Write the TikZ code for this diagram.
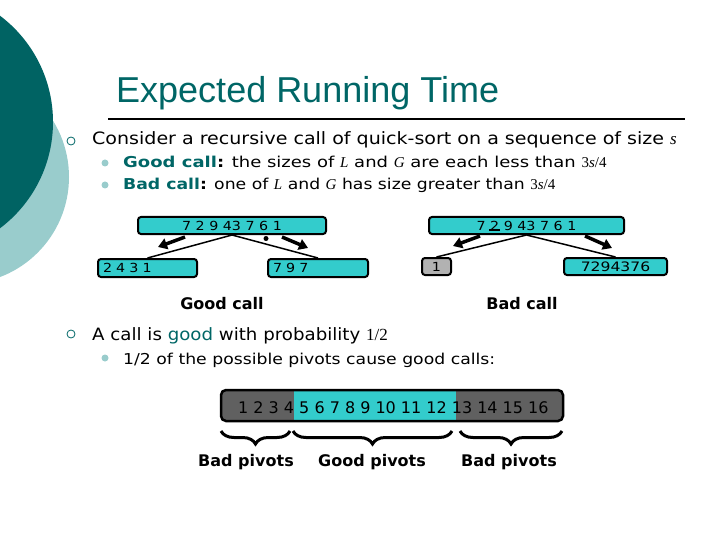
\documentclass[tikz,border=0pt]{standalone}
\usepackage{fontspec}
\setmainfont{DejaVu Sans}
\newfontfamily\titlefont{Liberation Sans}
\newfontfamily\serifvar{Liberation Serif}
\usepackage{tikz}
\usetikzlibrary{arrows.meta, decorations.pathreplacing}

\definecolor{darkteal}{RGB}{0,99,99}
\definecolor{lightteal}{RGB}{153,204,204}
\definecolor{textteal}{RGB}{0,102,102}
\definecolor{boxcyan}{RGB}{51,204,204}
\definecolor{pivotgray}{RGB}{96,96,96}
\definecolor{onegray}{RGB}{178,178,178}

\newcommand{\sv}[1]{{\serifvar\itshape #1}}
\newcommand{\sn}[1]{{\serifvar #1}}

\tikzset{
  seqbox/.style={draw=black, line width=2pt, rounded corners=3pt, fill=boxcyan,
    inner sep=0pt, anchor=north west, font=\fontsize{12.5}{12.5}\selectfont\addfontfeature{FakeStretch=1.14}},
  splitline/.style={line width=1.5pt},
  splitarrow/.style={line width=3.5pt, -{Triangle[length=9pt,width=11pt]}},
  calllbl/.style={anchor=base, font=\fontsize{16}{16}\selectfont\bfseries},
  maintext/.style={anchor=base west, inner sep=0pt, font=\fontsize{17}{17}\selectfont\addfontfeature{FakeStretch=1.12}},
  subtext/.style={anchor=base west, inner sep=0pt, font=\fontsize{15}{15}\selectfont\addfontfeature{FakeStretch=1.15}},
  hollowdot/.style={draw=textteal, line width=0.8pt, fill=white},
  softdot/.style={fill=lightteal},
  pivotbrace/.style={decorate, decoration={brace, mirror, amplitude=13pt}, line width=3pt},
}

\begin{document}
\begin{tikzpicture}[x=1pt, y=-1pt]
\useasboundingbox (0,0) rectangle (720,540);

% background circles
\fill[lightteal] (-38,177) circle (107);
\fill[darkteal] (-80,122) circle (133);

% title
\node[anchor=base west, inner sep=0pt, text=textteal, font=\fontsize{36}{36}\titlefont] (title) at (116,103) {Expected Running Time};
\draw[line width=2pt] (108,119) -- (685,119);

% bullets
\filldraw[hollowdot] (71,141) circle (4);
\node[maintext] (consider) at (92,145) {Consider a recursive call of quick-sort on a sequence of size \sv{s}};
\fill[softdot] (105,163) circle (3.5);
\node[subtext, font=\fontsize{15}{15}\selectfont\addfontfeature{FakeStretch=1.2}] (goodcall) at (123,168) {\textbf{\textcolor{textteal}{Good call}:} the sizes of \sv{L} and \sv{G} are each less than \sn{3}\sv{s}\sn{/4}};
\fill[softdot] (105,185) circle (3.5);
\node[subtext] (badcall) at (123,190) {\textbf{\textcolor{textteal}{Bad call}:} one of \sv{L} and \sv{G} has size greater than \sn{3}\sv{s}\sn{/4}};

% good call tree
\node[seqbox, minimum width=188pt, minimum height=17pt] (groot) at (137,216) {7 2 9 43 7 6 1};
\node[seqbox, minimum width=99pt, minimum height=18pt, text width=89pt, align=left] (gleft) at (97,258) {2 4 3 1};
\node[seqbox, minimum width=100pt, minimum height=18pt, text width=90pt, align=left] (gright) at (267,258) {7 9 7};
\fill ([xshift=34pt,yshift=-3.5pt]groot.south) circle (2.5);
\draw[splitline] (groot.south) -- (gleft.north);
\draw[splitline] (groot.south) -- (gright.north);
\draw[splitarrow] (185,237) -- (158,247);
\draw[splitarrow] (282,237) -- (308,248);
\node[calllbl] (goodlbl) at (222,309) {Good call};

% bad call tree
\node[seqbox, minimum width=195pt, minimum height=17pt] (broot) at (428,216) {7 2 9 43 7 6 1};
\node[seqbox, fill=onegray, minimum width=29pt, minimum height=17pt] (bleft) at (421,257) {1};
\node[seqbox, minimum width=103pt, minimum height=17pt, font=\fontsize{13}{13}\selectfont\addfontfeature{FakeStretch=1.2}] (bright) at (563,257) {7294376};
\draw[line width=2pt] (489,230) -- (500,230);
\draw[splitline] (broot.south) -- (bleft.north);
\draw[splitline] (broot.south) -- (bright.north);
\draw[splitarrow] (480,236) -- (453,246);
\draw[splitarrow] (585,236) -- (612,248);
\node[calllbl] (badlbl) at (522,309) {Bad call};

% probability
\filldraw[hollowdot] (71,334) circle (4);
\node[maintext, font=\fontsize{17}{17}\selectfont\addfontfeature{FakeStretch=1.07}] (prob) at (92,340) {A call is \textcolor{textteal}{good} with probability \sn{1/2}};
\fill[softdot] (105,358) circle (3.5);
\node[subtext] (half) at (123,364) {1/2 of the possible pivots cause good calls:};

% pivot bar
\fill[pivotgray, rounded corners=5pt] (221,390) rectangle (563,421);
\fill[boxcyan] (294,391) rectangle (456,420);
\draw[line width=2.5pt, rounded corners=5pt] (221,390) rectangle (563,421);
\node[anchor=base west, inner sep=0pt, font=\fontsize{16}{16}\selectfont] (nums) at (238,413) {1 2 3 4 5 6 7 8 9 10 11 12 13 14 15 16};

% braces
\draw[pivotbrace] (221,431) -- (290,431);
\draw[pivotbrace] (293,431) -- (452,431);
\draw[pivotbrace] (460,431) -- (562,431);
\node[calllbl] (badl) at (246,466) {Bad pivots};
\node[calllbl] (goodp) at (372,466) {Good pivots};
\node[calllbl] (badr) at (509,466) {Bad pivots};
\end{tikzpicture}
\end{document}
